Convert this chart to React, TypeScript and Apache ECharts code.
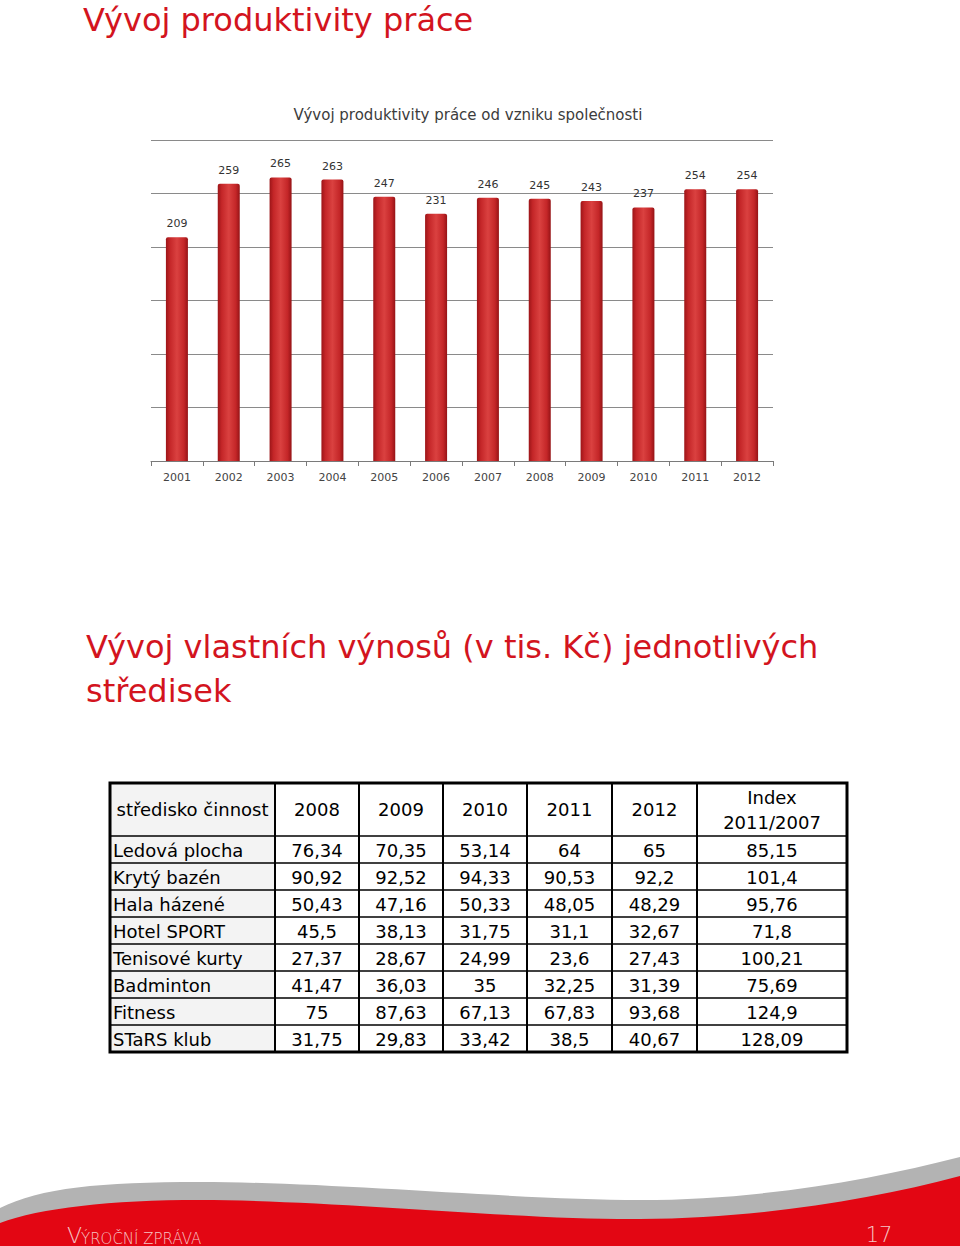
import React, { useEffect, useRef } from "react";
import * as echarts from "echarts";

// ---- Bar chart data ----
const years = ["2001", "2002", "2003", "2004", "2005", "2006", "2007", "2008", "2009", "2010", "2011", "2012"];
const productivity = [209, 259, 265, 263, 247, 231, 246, 245, 243, 237, 254, 254];

// ---- Table data ----
const tableYears = ["2008", "2009", "2010", "2011", "2012"];
const centers = ["Ledová plocha", "Krytý bazén", "Hala házené", "Hotel SPORT", "Tenisové kurty", "Badminton", "Fitness", "STaRS klub"];
const v2008 = [76.34, 90.92, 50.43, 45.5, 27.37, 41.47, 75, 31.75];
const v2009 = [70.35, 92.52, 47.16, 38.13, 28.67, 36.03, 87.63, 29.83];
const v2010 = [53.14, 94.33, 50.33, 31.75, 24.99, 35, 67.13, 33.42];
const v2011 = [64, 90.53, 48.05, 31.1, 23.6, 32.25, 67.83, 38.5];
const v2012 = [65, 92.2, 48.29, 32.67, 27.43, 31.39, 93.68, 40.67];
const indexValues = [85.15, 101.4, 95.76, 71.8, 100.21, 75.69, 124.9, 128.09];

const FONT = "'DejaVu Sans', sans-serif";
const RED = "#d3141e";

const fmt = (v: number) => String(v).replace(".", ",");

function buildTable(): any[] {
  const els: any[] = [];
  const colX = [110, 275, 359, 443, 527, 612, 697, 847];
  const top = 783;
  const headerBottom = 836;
  const rowH = 27;
  const bottom = headerBottom + rowH * centers.length;
  const cols = [v2008, v2009, v2010, v2011, v2012, indexValues];

  els.push({ type: "rect", shape: { x: colX[0], y: top, width: colX[1] - colX[0], height: bottom - top }, style: { fill: "#f3f3f3" }, z: 1 });

  for (let i = 0; i <= centers.length; i++) {
    const y = headerBottom + i * rowH;
    els.push({ type: "line", shape: { x1: colX[0], y1: y, x2: colX[colX.length - 1], y2: y }, style: { stroke: "#000", lineWidth: 1.6 }, z: 3 });
  }
  for (let i = 1; i < colX.length - 1; i++) {
    els.push({ type: "line", shape: { x1: colX[i], y1: top, x2: colX[i], y2: bottom }, style: { stroke: "#000", lineWidth: 2 }, z: 3 });
  }
  els.push({ type: "rect", shape: { x: colX[0], y: top, width: colX[colX.length - 1] - colX[0], height: bottom - top }, style: { fill: "none", stroke: "#000", lineWidth: 3 }, z: 4 });

  const txt = (text: string, x: number, y: number, align: string) => ({
    type: "text",
    z: 5,
    style: {
      text, x, y,
      fill: "#000",
      fontSize: 18,
      fontFamily: FONT,
      textAlign: align,
      textVerticalAlign: "middle",
      align,
      verticalAlign: "middle",
    },
  });

  const hMid = (top + headerBottom) / 2;
  els.push(txt("středisko činnost", (colX[0] + colX[1]) / 2, hMid, "center"));
  tableYears.forEach((y, i) => {
    els.push(txt(y, (colX[i + 1] + colX[i + 2]) / 2, hMid, "center"));
  });
  const ix = (colX[6] + colX[7]) / 2;
  els.push(txt("Index", ix, hMid - 12, "center"));
  els.push(txt("2011/2007", ix, hMid + 13, "center"));

  centers.forEach((name, r) => {
    const cy = headerBottom + r * rowH + rowH / 2 + 1;
    els.push(txt(name, colX[0] + 3, cy, "left"));
    cols.forEach((col, c) => {
      els.push(txt(fmt(col[r]), (colX[c + 1] + colX[c + 2]) / 2, cy, "center"));
    });
  });
  return els;
}

export default function App() {
  const ref = useRef<HTMLDivElement>(null);
  useEffect(() => {
    if (!ref.current) return;
    echarts.graphic.registerShape(
      "greySwoosh",
      echarts.graphic.extendPath(
        "M0,1208 C40,1188 100,1182 200,1182 C330,1182 520,1200 640,1200 C760,1200 870,1180 960,1157 L960,1246 L0,1246 Z",
        {}
      )
    );
    echarts.graphic.registerShape(
      "redSwoosh",
      echarts.graphic.extendPath(
        "M0,1223 C40,1208 110,1200 200,1200 C330,1200 520,1220 640,1219 C760,1218 870,1200 960,1176 L960,1246 L0,1246 Z",
        {}
      )
    );
    const chart = echarts.init(ref.current, null, { renderer: "svg" });
    const barGradient = new echarts.graphic.LinearGradient(0, 0, 1, 0, [
      { offset: 0, color: "#9c1518" },
      { offset: 0.18, color: "#c42628" },
      { offset: 0.5, color: "#da4140" },
      { offset: 0.82, color: "#c42628" },
      { offset: 1, color: "#951316" },
    ]);
    chart.setOption({
      animation: false,
      backgroundColor: "#ffffff",
      title: {
        text: "Vývoj produktivity práce od vzniku společnosti",
        left: 463,
        top: 102,
        textAlign: "center",
        textStyle: { fontFamily: FONT, fontSize: 15, fontWeight: "normal", color: "#3c3c3c" },
      },
      grid: { left: 151, right: 187, top: 140, bottom: 785, containLabel: false },
      xAxis: {
        type: "category",
        data: years,
        axisLine: { lineStyle: { color: "#7a7a7a", width: 1 } },
        axisTick: { show: true, length: 5, lineStyle: { color: "#7a7a7a" } },
        axisLabel: { fontFamily: FONT, fontSize: 11, color: "#444", margin: 11 },
      },
      yAxis: {
        type: "value",
        min: 0,
        max: 300,
        interval: 50,
        axisLabel: { show: false },
        axisLine: { show: false },
        axisTick: { show: false },
        splitLine: { lineStyle: { color: "#8a8a8a", width: 1 } },
      },
      series: [
        {
          type: "bar",
          data: productivity,
          barWidth: 22,
          itemStyle: { color: barGradient, borderRadius: [2, 2, 0, 0] },
          label: { show: true, position: "top", distance: 8, fontFamily: FONT, fontSize: 11, color: "#333" },
        },
      ],
      graphic: [
        {
          type: "text",
          style: { text: "Vývoj produktivity práce", x: 83, y: 36, fill: RED, fontSize: 32, fontFamily: FONT, textVerticalAlign: "bottom", verticalAlign: "bottom" },
        },
        {
          type: "text",
          style: { text: "Vývoj vlastních výnosů (v tis. Kč) jednotlivých", x: 86, y: 663, fill: RED, fontSize: 32, fontFamily: FONT, textVerticalAlign: "bottom", verticalAlign: "bottom" },
        },
        {
          type: "text",
          style: { text: "středisek", x: 86, y: 707, fill: RED, fontSize: 32, fontFamily: FONT, textVerticalAlign: "bottom", verticalAlign: "bottom" },
        },
        ...buildTable(),
        { type: "greySwoosh", x: 0, y: 0, style: { fill: "#b3b3b3" }, z: 1 },
        { type: "redSwoosh", x: 0, y: 0, style: { fill: "#e30613" }, z: 2 },
        {
          type: "text", z: 3,
          style: { text: "V", x: 67, y: 1246, fill: "#f6c4c4", fontSize: 22, fontFamily: FONT, fontWeight: 200, textVerticalAlign: "bottom", verticalAlign: "bottom" },
        },
        {
          type: "text", z: 3,
          style: { text: "ÝROČNÍ ZPRÁVA", x: 81, y: 1246, fill: "#f6c4c4", fontSize: 15, fontFamily: FONT, fontWeight: 200, textVerticalAlign: "bottom", verticalAlign: "bottom" },
        },
        {
          type: "text", z: 3,
          style: { text: "17", x: 879, y: 1245, fill: "#f6c4c4", fontSize: 21, fontFamily: FONT, fontWeight: 200, textAlign: "center", align: "center", textVerticalAlign: "bottom", verticalAlign: "bottom" },
        },
      ],
    });
    return () => chart.dispose();
  }, []);
  return <div ref={ref} style={{ position: "absolute", left: 0, top: 0, width: 960, height: 1246 }} />;
}
